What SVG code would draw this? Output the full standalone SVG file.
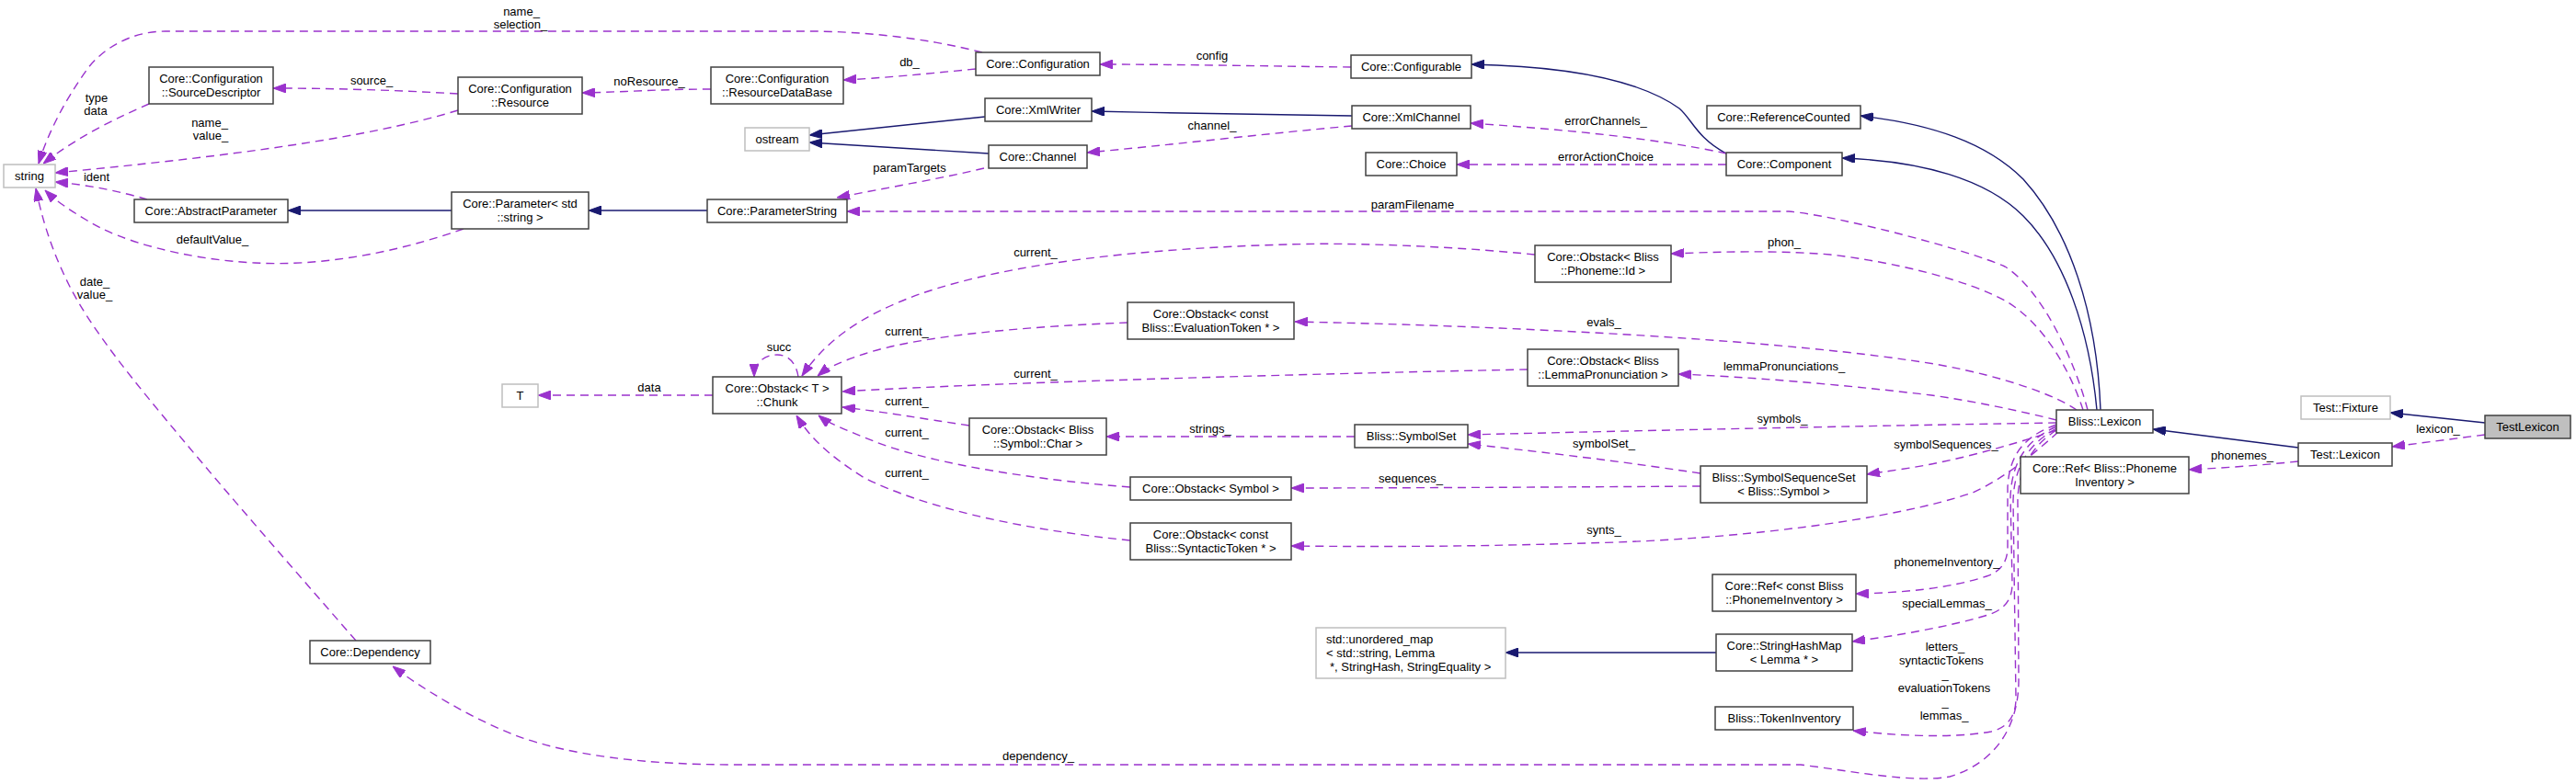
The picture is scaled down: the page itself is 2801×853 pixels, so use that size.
<svg xmlns="http://www.w3.org/2000/svg" width="2801" height="853" viewBox="0 0 2801 853">
<defs>
<style>
text{font-family:"Liberation Sans",Arial,sans-serif;font-size:13px;fill:#000}
.nd rect{fill:#fff;stroke:#404040;stroke-width:1.5}
.gr rect{fill:#fff;stroke:#bfbfbf;stroke-width:1.5}
.cur rect{fill:#bfbfbf;stroke:#404040;stroke-width:1.5}
.nd text,.gr text,.cur text{text-anchor:middle}
.u{fill:none;stroke:#9a32cd;stroke-width:1.4;stroke-dasharray:9,6;marker-end:url(#pa)}
.i{fill:none;stroke:#191970;stroke-width:1.4;marker-end:url(#na)}
.el{text-anchor:middle}
</style>
<marker id="pa" viewBox="0 0 14 10" refX="14" refY="5" markerWidth="14" markerHeight="10" markerUnits="userSpaceOnUse" orient="auto"><path d="M0,0 L14,5 L0,10 z" fill="#9a32cd" stroke="#9a32cd" stroke-width="1"/></marker>
<marker id="na" viewBox="0 0 14 10" refX="14" refY="5" markerWidth="14" markerHeight="10" markerUnits="userSpaceOnUse" orient="auto"><path d="M0,0 L14,5 L0,10 z" fill="#191970" stroke="#191970" stroke-width="1"/></marker>
</defs>
<rect width="2801" height="853" fill="#fff"/>

<g id="connectors">
<path class="u" d="M1068,57 C1010,42 940,34 880,34 L180,34 C140,34 110,55 95,75 C70,110 52,145 42,178"/>
<text class="el" x="567" y="17">name_</text><text class="el" x="566" y="31">selection_</text>
<path class="u" d="M162,113 C130,127 85,148 47,178"/>
<text class="el" x="105" y="111">type</text><text class="el" x="104" y="125">data</text>
<path class="u" d="M498,120 C400,150 250,170 60,188"/>
<text class="el" x="228" y="138">name_</text><text class="el" x="229" y="152">value_</text>
<path class="u" d="M160,217 C130,208 95,201 60,198"/>
<text class="el" x="105" y="197">ident</text>
<path class="u" d="M504,249 C430,275 350,290 277,286 C200,282 130,262 95,240 C75,228 60,218 49,207"/>
<text class="el" x="231" y="265">defaultValue_</text>
<path class="u" d="M387,697 C320,620 250,540 200,480 C150,420 100,360 75,310 C55,270 45,235 39,205"/>
<text class="el" x="103" y="311">date_</text><text class="el" x="103" y="325">value_</text>
<path class="u" d="M498,102 C430,98 360,96 297,96"/>
<text class="el" x="404" y="92">source_</text>
<path class="u" d="M773,97 C720,97 680,100 633,101"/>
<text class="el" x="706" y="93">noResource_</text>
<path class="u" d="M1061,75 C1010,80 960,85 917,87"/>
<text class="el" x="989" y="72">db_</text>
<path class="u" d="M1469,73 C1380,72 1280,70 1196,70"/>
<text class="el" x="1318" y="65">config</text>
<path class="i" d="M1071,127 C1000,135 930,142 880,147"/>
<path class="i" d="M1075,167 C1000,162 930,158 880,155"/>
<path class="i" d="M1470,126 C1370,125 1280,123 1187,121"/>
<path class="u" d="M1470,137 C1380,145 1270,158 1182,166"/>
<text class="el" x="1318" y="141">channel_</text>
<path class="u" d="M1070,183 C1020,195 960,205 910,215"/>
<text class="el" x="989" y="187">paramTargets</text>
<path class="i" d="M491,229 L313,229"/>
<path class="i" d="M769,229 L640,229"/>
<path class="i" d="M1877,167 C1845,150 1840,130 1826,118 C1780,85 1700,72 1600,70"/>
<path class="u" d="M1877,167 C1800,150 1690,140 1599,134"/>
<text class="el" x="1746" y="136">errorChannels_</text>
<path class="u" d="M1877,179 L1584,179"/>
<text class="el" x="1746" y="175">errorActionChoice</text>
<path class="i" d="M2284,446 C2280,340 2250,250 2200,195 C2160,155 2100,135 2023,126"/>
<path class="i" d="M2280,446 C2272,360 2245,280 2200,235 C2160,195 2090,175 2003,172"/>
<path class="u" d="M2270,446 C2255,390 2220,315 2180,290 C2140,272 2000,235 1945,230 L921,230"/>
<text class="el" x="1536" y="227">paramFilename</text>
<path class="u" d="M2265,446 C2250,400 2220,350 2180,327 C2140,305 2060,285 1990,277 C1930,272 1870,274 1817,276"/>
<text class="el" x="1940" y="268">phon_</text>
<path class="u" d="M2258,446 C2235,430 2180,410 2109,397 C1950,370 1650,355 1408,350"/>
<text class="el" x="1744" y="355">evals_</text>
<path class="u" d="M2236,457 C2200,448 2150,437 2100,430 C2000,418 1900,410 1825,407"/>
<text class="el" x="1940" y="403">lemmaPronunciations_</text>
<path class="u" d="M1669,277 C1560,266 1450,264 1400,266 C1250,270 1100,285 1000,320 C930,345 895,375 872,409"/>
<text class="el" x="1126" y="279">current_</text>
<path class="u" d="M1226,351 C1120,355 1000,365 940,385 C915,393 900,400 889,409"/>
<text class="el" x="986" y="365">current_</text>
<path class="u" d="M1661,402 C1500,405 1100,415 916,426"/>
<text class="el" x="1126" y="411">current_</text>
<path class="u" d="M1054,463 C1000,455 960,448 916,443"/>
<text class="el" x="986" y="441">current_</text>
<path class="u" d="M1229,530 C1100,520 1000,500 950,480 C920,468 900,460 890,452"/>
<text class="el" x="986" y="475">current_</text>
<path class="u" d="M1229,588 C1100,575 1000,550 940,520 C900,495 880,475 866,452"/>
<text class="el" x="986" y="519">current_</text>
<path class="u" d="M868,410 C866,396 858,386 845,386 C830,386 820,396 820,410"/>
<text class="el" x="847" y="382">succ</text>
<path class="u" d="M775,430 L585,430"/>
<text class="el" x="706" y="426">data</text>
<path class="u" d="M1473,475 L1203,475"/>
<text class="el" x="1316" y="471">strings_</text>
<path class="u" d="M2236,460 C2100,462 1800,468 1596,473"/>
<text class="el" x="1938" y="460">symbols_</text>
<path class="u" d="M1849,515 C1750,500 1660,490 1596,483"/>
<text class="el" x="1744" y="487">symbolSet_</text>
<path class="u" d="M1849,529 C1700,530 1500,531 1404,531"/>
<text class="el" x="1534" y="525">sequences_</text>
<path class="u" d="M2236,468 C2200,480 2150,495 2100,505 C2080,509 2050,513 2030,516"/>
<text class="el" x="2116" y="488">symbolSequences_</text>
<path class="u" d="M2238,470 C2210,495 2180,520 2145,536 C2060,565 1900,585 1757,590 C1600,595 1500,595 1404,594"/>
<text class="el" x="1744" y="581">synts_</text>
<path class="u" d="M2236,462 C2200,475 2185,495 2183,530 L2183,595 C2183,612 2175,622 2160,627 C2120,640 2070,645 2018,646"/>
<text class="el" x="2117" y="616">phonemeInventory_</text>
<path class="u" d="M2236,464 C2205,478 2188,500 2186,540 L2188,635 C2188,652 2180,662 2165,668 C2120,682 2060,692 2014,698"/>
<text class="el" x="2117" y="661">specialLemmas_</text>
<path class="u" d="M2236,466 C2208,482 2190,505 2189,545 L2192,760 C2192,780 2182,792 2165,796 C2120,804 2060,800 2015,795"/>
<text class="el" x="2115" y="708">letters_</text>
<text class="el" x="2111" y="723">syntacticTokens</text>
<text class="el" x="2115" y="738">_</text>
<text class="el" x="2114" y="753">evaluationTokens</text>
<text class="el" x="2115" y="768">_</text>
<text class="el" x="2114" y="783">lemmas_</text>
<path class="u" d="M2236,468 C2210,485 2193,510 2194,550 L2195,740 C2195,790 2170,830 2120,845 C2080,852 2020,840 1958,832 L800,832 C700,832 620,822 560,800 C510,780 460,750 427,725"/>
<text class="el" x="1129" y="827">dependency_</text>
<path class="i" d="M1866,710 L1637,710"/>
<path class="i" d="M2499,487 L2341,467"/>
<path class="i" d="M2702,460 L2599,449"/>
<path class="u" d="M2702,473 L2601,486"/>
<text class="el" x="2651" y="471">lexicon_</text>
<path class="u" d="M2499,502 C2460,506 2420,509 2380,511"/>
<text class="el" x="2438" y="500">phonemes_</text>
</g>

<g id="string" class="gr"><rect x="4" y="179" width="56" height="25"/><text x="32" y="196">string</text></g>
<g id="sourceDescriptor" class="nd"><rect x="162" y="73" width="135" height="40"/><text x="229.5" y="90">Core::Configuration</text><text x="229.5" y="105">::SourceDescriptor</text></g>
<g id="resource" class="nd"><rect x="498" y="84" width="135" height="40"/><text x="565.5" y="101">Core::Configuration</text><text x="565.5" y="116">::Resource</text></g>
<g id="resourceDataBase" class="nd"><rect x="773" y="73" width="144" height="40"/><text x="845" y="90">Core::Configuration</text><text x="845" y="105">::ResourceDataBase</text></g>
<g id="configuration" class="nd"><rect x="1061" y="57" width="135" height="25"/><text x="1128.5" y="74">Core::Configuration</text></g>
<g id="configurable" class="nd"><rect x="1469" y="60" width="131" height="25"/><text x="1534.5" y="77">Core::Configurable</text></g>
<g id="xmlWriter" class="nd"><rect x="1071" y="107" width="116" height="25"/><text x="1129" y="124">Core::XmlWriter</text></g>
<g id="ostream" class="gr"><rect x="810" y="139" width="70" height="25"/><text x="845" y="156">ostream</text></g>
<g id="channel" class="nd"><rect x="1075" y="158" width="107" height="25"/><text x="1128.5" y="175">Core::Channel</text></g>
<g id="xmlChannel" class="nd"><rect x="1470" y="115" width="129" height="25"/><text x="1534.5" y="132">Core::XmlChannel</text></g>
<g id="choice" class="nd"><rect x="1485" y="166" width="99" height="25"/><text x="1534.5" y="183">Core::Choice</text></g>
<g id="referenceCounted" class="nd"><rect x="1856" y="115" width="167" height="25"/><text x="1939.5" y="132">Core::ReferenceCounted</text></g>
<g id="component" class="nd"><rect x="1877" y="166" width="126" height="25"/><text x="1940" y="183">Core::Component</text></g>
<g id="abstractParameter" class="nd"><rect x="146" y="217" width="167" height="25"/><text x="229.5" y="234">Core::AbstractParameter</text></g>
<g id="parameterStdString" class="nd"><rect x="491" y="209" width="149" height="40"/><text x="565.5" y="226">Core::Parameter&lt; std</text><text x="565.5" y="241">::string &gt;</text></g>
<g id="parameterString" class="nd"><rect x="769" y="217" width="152" height="25"/><text x="845" y="234">Core::ParameterString</text></g>
<g id="obstackPhonemeId" class="nd"><rect x="1669" y="267" width="148" height="40"/><text x="1743" y="284">Core::Obstack&lt; Bliss</text><text x="1743" y="299">::Phoneme::Id &gt;</text></g>
<g id="obstackEvaluationToken" class="nd"><rect x="1226" y="329" width="181" height="40"/><text x="1316.5" y="346">Core::Obstack&lt; const</text><text x="1316.5" y="361">Bliss::EvaluationToken * &gt;</text></g>
<g id="obstackLemmaPronunciation" class="nd"><rect x="1661" y="380" width="164" height="40"/><text x="1743" y="397">Core::Obstack&lt; Bliss</text><text x="1743" y="412">::LemmaPronunciation &gt;</text></g>
<g id="T" class="gr"><rect x="546" y="418" width="39" height="25"/><text x="565.5" y="435">T</text></g>
<g id="chunk" class="nd"><rect x="775" y="410" width="140" height="40"/><text x="845" y="427">Core::Obstack&lt; T &gt;</text><text x="845" y="442">::Chunk</text></g>
<g id="obstackSymbolChar" class="nd"><rect x="1054" y="455" width="149" height="40"/><text x="1128.5" y="472">Core::Obstack&lt; Bliss</text><text x="1128.5" y="487">::Symbol::Char &gt;</text></g>
<g id="symbolSet" class="nd"><rect x="1473" y="462" width="123" height="25"/><text x="1534.5" y="479">Bliss::SymbolSet</text></g>
<g id="blissLexicon" class="nd"><rect x="2236" y="446" width="105" height="25"/><text x="2288.5" y="463">Bliss::Lexicon</text></g>
<g id="testFixture" class="gr"><rect x="2502" y="431" width="97" height="25"/><text x="2550.5" y="448">Test::Fixture</text></g>
<g id="TestLexicon" class="cur"><rect x="2702" y="452" width="93" height="25"/><text x="2748.5" y="469">TestLexicon</text></g>
<g id="testLexicon" class="nd"><rect x="2499" y="482" width="102" height="25"/><text x="2550" y="499">Test::Lexicon</text></g>
<g id="refPhonemeInventory" class="nd"><rect x="2197" y="497" width="183" height="40"/><text x="2288.5" y="514">Core::Ref&lt; Bliss::Phoneme</text><text x="2288.5" y="529">Inventory &gt;</text></g>
<g id="symbolSequenceSet" class="nd"><rect x="1849" y="507" width="181" height="40"/><text x="1939.5" y="524">Bliss::SymbolSequenceSet</text><text x="1939.5" y="539">&lt; Bliss::Symbol &gt;</text></g>
<g id="obstackSymbol" class="nd"><rect x="1229" y="519" width="175" height="25"/><text x="1316.5" y="536">Core::Obstack&lt; Symbol &gt;</text></g>
<g id="obstackSyntacticToken" class="nd"><rect x="1229" y="569" width="175" height="40"/><text x="1316.5" y="586">Core::Obstack&lt; const</text><text x="1316.5" y="601">Bliss::SyntacticToken * &gt;</text></g>
<g id="refConstPhonemeInventory" class="nd"><rect x="1862" y="625" width="156" height="40"/><text x="1940" y="642">Core::Ref&lt; const Bliss</text><text x="1940" y="657">::PhonemeInventory &gt;</text></g>
<g id="unorderedMap" class="gr"><rect x="1431" y="683" width="206" height="55"/><text x="1442" y="700" style="text-anchor:start">std::unordered_map</text><text x="1442" y="715" style="text-anchor:start">&lt; std::string, Lemma</text><text x="1446" y="730" style="text-anchor:start">*, StringHash, StringEquality &gt;</text></g>
<g id="stringHashMap" class="nd"><rect x="1866" y="690" width="148" height="40"/><text x="1940" y="707">Core::StringHashMap</text><text x="1940" y="722">&lt; Lemma * &gt;</text></g>
<g id="tokenInventory" class="nd"><rect x="1865" y="769" width="150" height="25"/><text x="1940" y="786">Bliss::TokenInventory</text></g>
<g id="dependency" class="nd"><rect x="337" y="697" width="131" height="25"/><text x="402.5" y="714">Core::Dependency</text></g>
</svg>
